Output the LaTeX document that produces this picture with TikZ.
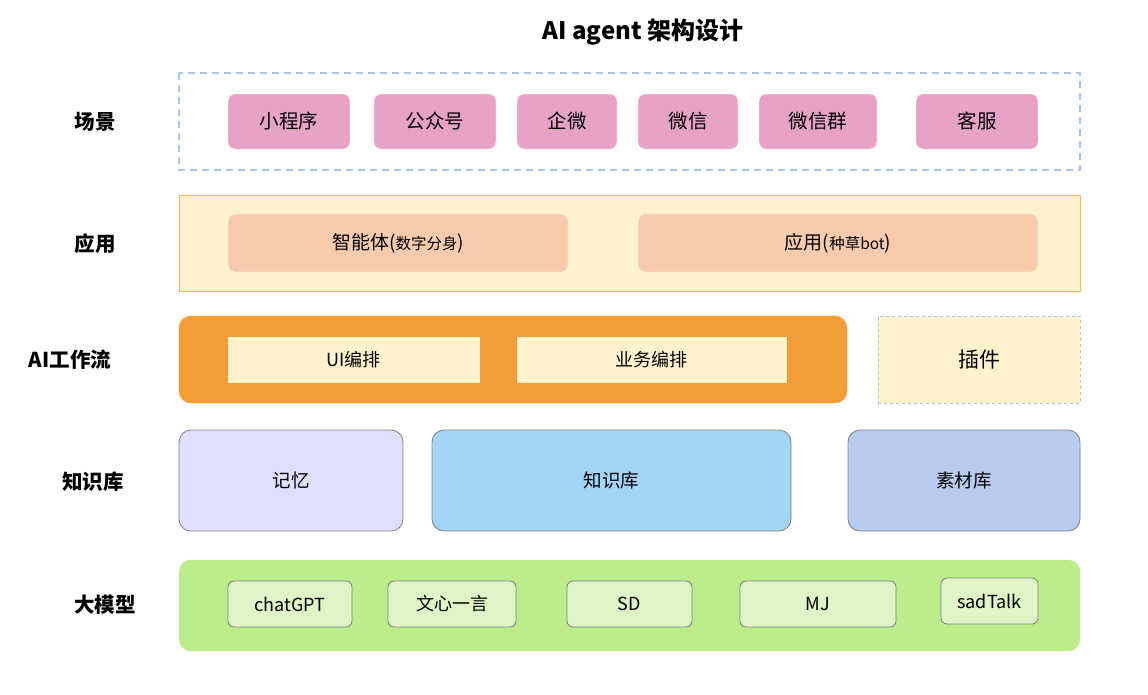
\documentclass[tikz,border=0pt]{standalone}
\usepackage{fontspec}
\setmainfont{Noto Sans CJK SC}
\newfontfamily\cjk{Noto Sans CJK SC}
\begin{document}
\begin{tikzpicture}[x=1pt,y=-1pt,
  lbl/.style={font=\fontsize{20.5}{22}\selectfont\bfseries, anchor=center},
  pinkbox/.style={fill=pinkc, draw=white, rounded corners=7pt, font=\fontsize{19.5}{22}\selectfont},
  appbox/.style={fill=peachc, draw=white, rounded corners=7pt, font=\fontsize{19}{22}\selectfont},
  wfbox/.style={fill=creamc, draw=creamc, font=\fontsize{18}{20}\selectfont},
  kbox/.style={draw=grayc, line width=0.8pt, rounded corners=12pt, font=\fontsize{18.5}{20}\selectfont},
  mbox/.style={fill=lgreenc, draw=grayc, line width=0.8pt, rounded corners=6pt, font=\fontsize{18}{20}\selectfont},
]
\definecolor{pinkc}{HTML}{E8A2C8}
\definecolor{peachc}{HTML}{F8CBAD}
\definecolor{creamc}{HTML}{FFF2CC}
\definecolor{dashc}{HTML}{A9C4EB}
\definecolor{orangec}{HTML}{F49D37}
\definecolor{lorangec}{HTML}{F7B766}
\definecolor{grayc}{HTML}{7F7F7F}
\definecolor{lavc}{HTML}{E1DFFE}
\definecolor{skyc}{HTML}{A2D5F6}
\definecolor{bluec}{HTML}{B8CCF2}
\definecolor{greenc}{HTML}{BDEC8B}
\definecolor{lgreenc}{HTML}{DDF5C7}
\useasboundingbox (0,0) rectangle (1148,694);
% title
\node[font=\fontsize{24}{26}\selectfont\bfseries] (title) at (643,32) {AI agent 架构设计};
% left labels
\node[lbl] (l1) at (95,122) {场景};
\node[lbl] (l2) at (95,244) {应用};
\node[lbl] (l3) at (70,360) {AI工作流};
\node[lbl] (l4) at (93,482) {知识库};
\node[lbl] (l5) at (105,605) {大模型};
% row 1
\draw[dashc, line width=1.6pt, dash pattern=on 7pt off 5pt] (179,73) rectangle (1080,170);
\foreach \a/\b/\t/\n in {228/350/小程序/s1, 374/496/公众号/s2, 517/617/企微/s3, 638/738/微信/s4, 759/877/微信群/s5, 916/1038/客服/s6}{
  \node[pinkbox, minimum width={\b-\a}, minimum height=55] (\n) at ({(\a+\b)/2},121.5) {\t};
}
% row 2
\draw[fill=creamc, draw=lorangec, line width=0.8pt] (179,195) rectangle (1080,291);
\node[appbox, minimum width=340, minimum height=58] (a1) at (398,243) {智能体({\fontsize{15.5}{17}\selectfont 数字分身})};
\node[appbox, minimum width=400, minimum height=58] (a2) at (838,243) {应用({\fontsize{15.5}{17}\selectfont 种草bot})};
% row 3
\draw[fill=orangec, draw=orangec, rounded corners=12pt] (179,316) rectangle (847,403);
\node[wfbox, minimum width=251, minimum height=45] (w1) at (353.5,359.5) {UI编排};
\node[wfbox, minimum width=269, minimum height=45] (w2) at (651.5,359.5) {业务编排};
\node[fill=creamc, draw=dashc, dashed, line width=0.8pt, minimum width=202, minimum height=87, font=\fontsize{21}{23}\selectfont] (plug) at (979,359.5) {插件};
% row 4
\node[kbox, fill=lavc, minimum width=224, minimum height=101] (k1) at (291,480.5) {记忆};
\node[kbox, fill=skyc, minimum width=359, minimum height=101] (k2) at (611.5,480.5) {知识库};
\node[kbox, fill=bluec, minimum width=232, minimum height=101] (k3) at (964,480.5) {素材库};
% row 5
\draw[fill=greenc, draw=greenc, rounded corners=12pt] (179,560) rectangle (1080,651);
\node[mbox, minimum width=124, minimum height=46] (m1) at (290,604) {chatGPT};
\node[mbox, minimum width=128, minimum height=46] (m2) at (452,604) {文心一言};
\node[mbox, minimum width=125, minimum height=46] (m3) at (629.5,604) {SD};
\node[mbox, minimum width=156, minimum height=46] (m4) at (818,604) {MJ};
\node[mbox, minimum width=97, minimum height=46] (m5) at (989.5,601) {sadTalk};
\end{tikzpicture}
\end{document}
